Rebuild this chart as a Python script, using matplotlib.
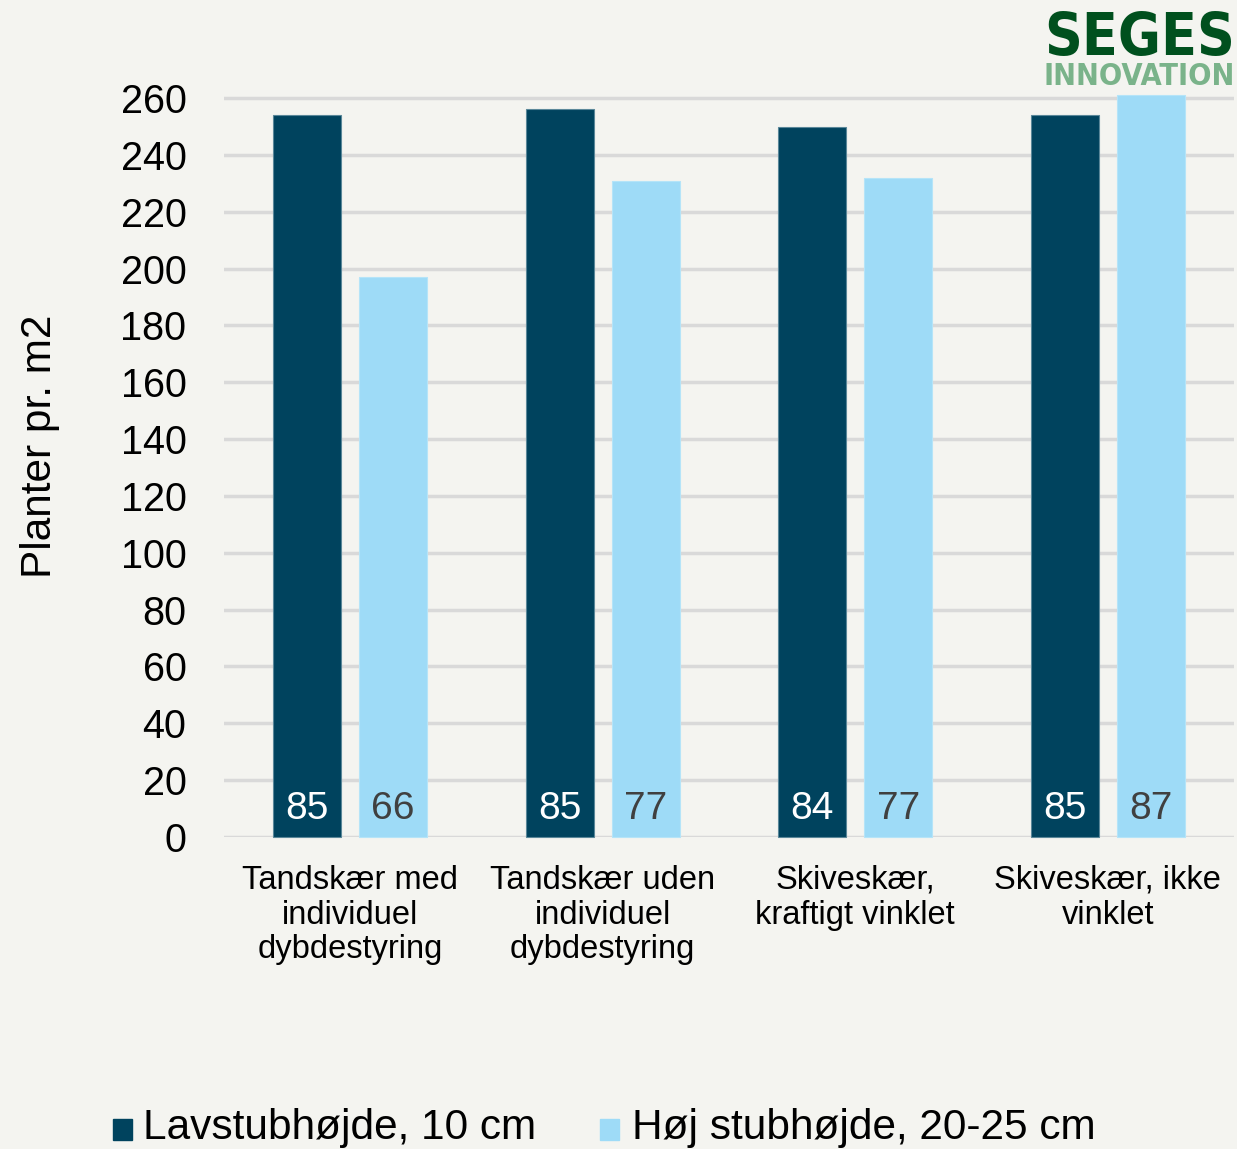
import matplotlib
matplotlib.use("Agg")
import matplotlib.pyplot as plt
import numpy as np
from matplotlib.patches import Rectangle

plt.rcParams['font.family'] = ['Liberation Sans', 'DejaVu Sans']

categories = ["Tandskær med\nindividuel\ndybdestyring",
              "Tandskær uden\nindividuel\ndybdestyring",
              "Skiveskær,\nkraftigt vinklet",
              "Skiveskær, ikke\nvinklet"]
series_names = ["Lavstubhøjde, 10 cm", "Høj stubhøjde, 20-25 cm"]
low_stub = [254, 256, 250, 254]
high_stub = [197, 231, 232, 261]
low_labels = ["85", "85", "84", "85"]
high_labels = ["66", "77", "77", "87"]
yticks = list(range(0, 261, 20))

bg = "#f4f4f0"
dark = "#00435e"
light = "#9edbf7"
grid = "#d9d9d9"

fig = plt.figure(figsize=(12.37, 11.49), dpi=100, facecolor=bg)
ax = fig.add_axes([224/1237, 312/1149, 1010/1237, 744/1149], facecolor=bg)

x = np.arange(len(categories))
w = 0.27
off = 0.17
ax.bar(x - off, low_stub, w, color=dark, edgecolor="#5a8799", linewidth=0.8, zorder=3, clip_on=False)
ax.bar(x + off, high_stub, w, color=light, edgecolor="#b5e4f8", linewidth=0.8, zorder=3, clip_on=False)

for i in range(len(categories)):
    ax.text(x[i] - off, 6.5, low_labels[i], ha="center", va="baseline", fontsize=28, color="white", zorder=4)
    ax.text(x[i] + off, 6.5, high_labels[i], ha="center", va="baseline", fontsize=28, color="#404040", zorder=4)

ax.set_xlim(-0.5, len(categories) - 0.5)
ax.set_ylim(0, 261.8)
ax.set_yticks(yticks)
ax.set_yticklabels([str(t) for t in yticks], fontsize=28.5)
ax.set_xticks(x)
ax.set_xticklabels(categories, fontsize=23.5, linespacing=1.16)
ax.tick_params(axis="y", length=0, pad=27)
ax.tick_params(axis="x", length=0, pad=20)
for s in ax.spines.values():
    s.set_visible(False)
ax.yaxis.grid(True, color=grid, linewidth=2.5, zorder=0)
ax.set_axisbelow(True)

fig.text(40/1237, 1 - 446/1149, "Planter pr. m2", rotation=90, fontsize=30.5, ha="center", va="center")

# legend
lx = [113, 600]
tx = [143, 632]
cols = [dark, light]
for i in range(2):
    fig.patches.append(Rectangle((lx[i]/1237, 1 - 1140/1149), 19/1237, 21/1149,
                                 transform=fig.transFigure, color=cols[i], figure=fig))
    fig.text(tx[i]/1237, 1 - 1128/1149, series_names[i], fontsize=30.5, va="center", ha="left")

# logo
fig.text(1235/1237, 1 - 55/1149, "SEGES", fontsize=42, fontweight="bold", color="#00501e",
         ha="right", va="baseline", family=['DejaVu Sans'], fontstretch='condensed')
fig.text(1235/1237, 1 - 85/1149, "INNOVATION", fontsize=22, fontweight="bold", color="#7ab38a",
         ha="right", va="baseline", family=['DejaVu Sans'], fontstretch='condensed')

fig.savefig("out.png", dpi=100, facecolor=bg)
